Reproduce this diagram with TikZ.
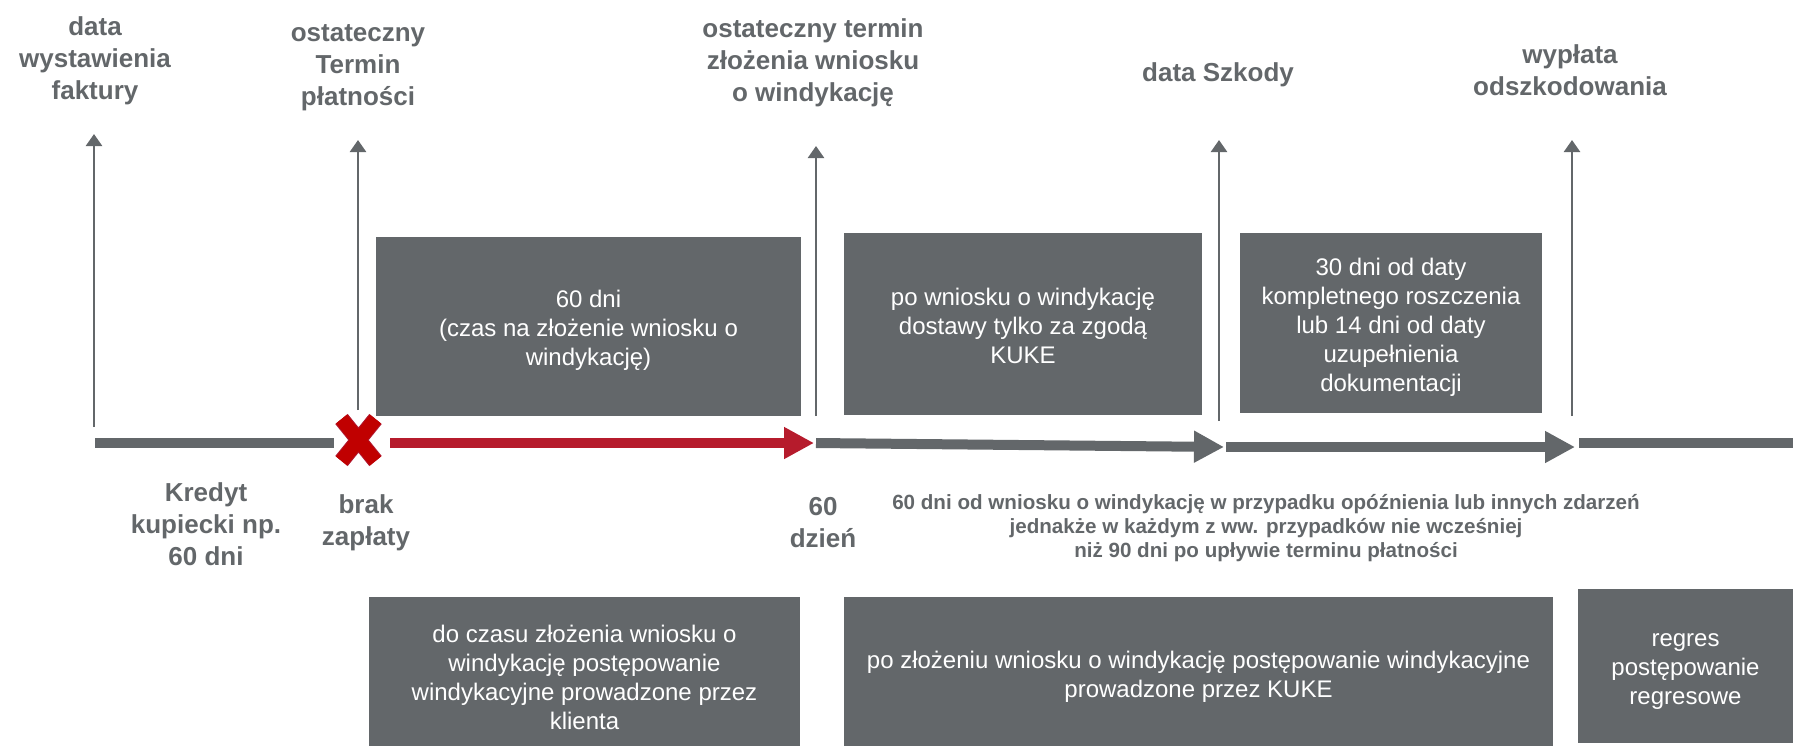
\documentclass[tikz,border=0pt]{standalone}
\usepackage{fontspec}
\setmainfont{Liberation Sans}
\usetikzlibrary{arrows.meta}
\definecolor{kgray}{HTML}{63676A}
\definecolor{kred}{HTML}{B61B2C}
\definecolor{xred}{HTML}{C00000}
\definecolor{xedge}{HTML}{B01830}

\begin{document}
\begin{tikzpicture}[x=0.5pt,y=-0.5pt,
    lbl/.style={text=kgray,font=\bfseries\fontsize{13}{16}\selectfont,align=center,inner sep=0pt},
    note/.style={text=kgray,font=\bfseries\fontsize{10.3}{11.8}\selectfont,align=center,inner sep=0pt},
    boxtext/.style={text=white,font=\fontsize{12}{14.5}\selectfont,align=center,inner sep=0pt},
    tick/.style={draw=kgray,line width=1.25pt,-{Triangle[width=8pt,length=6pt]}},
    bar/.style={draw=kgray,line width=5pt},
    garrow/.style={bar,-{Triangle[width=15pt,length=15pt]}},
    rarrow/.style={draw=kred,line width=5pt,-{Triangle[width=15pt,length=15pt]}}]
  \useasboundingbox (0,0) rectangle (1793,746);

  \node[lbl] (faktura) at (95,60.5) {data\\wystawienia\\faktury};
  \node[lbl] (termin) at (358,68) {ostateczny\\Termin\\płatności};
  \node[lbl] (wniosek) at (813,63) {ostateczny termin\\złożenia wniosku\\o windykację};
  \node[lbl] (szkoda) at (1218,75) {data Szkody};
  \node[lbl] (wyplata) at (1570,70) {wypłata\\odszkodowania};

  \foreach \n/\x/\b/\t in {1/94/427/134, 2/358/410/140, 3/816/416/146, 4/1219/421/140, 5/1572/416/140} {
    \coordinate (base\n) at (\x,\b);
    \coordinate (tip\n) at (\x,\t);
    \draw[tick] (base\n) -- (tip\n);
  }

  \fill[kgray] (376,237) rectangle (801,416);
  \node[boxtext] (czas) at (588.5,330) {60 dni\\(czas na złożenie wniosku o\\windykację)};
  \fill[kgray] (844,233) rectangle (1202,415);
  \node[boxtext] (dostawy) at (1023,326) {po wniosku o windykację\\dostawy tylko za zgodą\\KUKE};
  \fill[kgray] (1240,233) rectangle (1542,413);
  \node[boxtext] (trzydzi) at (1391,327) {30 dni od daty\\kompletnego roszczenia\\lub 14 dni od daty\\uzupełnienia\\dokumentacji};

  % os czasu
  \coordinate (s0) at (95,443); \coordinate (s1) at (334,443);
  \draw[bar] (s0) -- (s1);
  \coordinate (r0) at (390,443); \coordinate (r1) at (814,443);
  \draw[rarrow] (r0) -- (r1);
  \coordinate (g0) at (816,443); \coordinate (g1) at (1224,447);
  \draw[garrow] (g0) -- (g1);
  \coordinate (h0) at (1226,447); \coordinate (h1) at (1575,447);
  \draw[garrow] (h0) -- (h1);
  \coordinate (k0) at (1579,443); \coordinate (k1) at (1793,443);
  \draw[bar] (k0) -- (k1);

  \coordinate (nopay) at (358.5,440);
  \begin{scope}[shift={(nopay)}]
    \draw[xedge,line width=8pt] (-17,-21) -- (17,21) (17,-21) -- (-17,21);
    \draw[xred,line width=7pt] (-17,-21) -- (17,21) (17,-21) -- (-17,21);
  \end{scope}

  \node[lbl] (kredyt) at (206,524) {Kredyt\\kupiecki np.\\60 dni};
  \node[lbl] (brak) at (366,523) {brak\\zapłaty};
  \node[lbl] (dzien) at (823,523) {60\\dzień};
  \node[note] (uwaga) at (1266,528) {60 dni od wniosku o windykację w przypadku opóźnienia lub innych zdarzeń\\jednakże w każdym z ww. przypadków nie wcześniej\\niż 90 dni po upływie terminu płatności};

  \fill[kgray] (369,597) rectangle (800,746);
  \node[boxtext] (klient) at (584.5,677) {do czasu złożenia wniosku o\\windykację postępowanie\\windykacyjne prowadzone przez\\klienta};
  \fill[kgray] (844,597) rectangle (1553,746);
  \node[boxtext] (kuke) at (1198.5,677) {po złożeniu wniosku o windykację postępowanie windykacyjne\\prowadzone przez KUKE};
  \fill[kgray] (1578,589) rectangle (1793,743);
  \node[boxtext] (regres) at (1685.5,672) {regres\\postępowanie\\regresowe};
\end{tikzpicture}
\end{document}
